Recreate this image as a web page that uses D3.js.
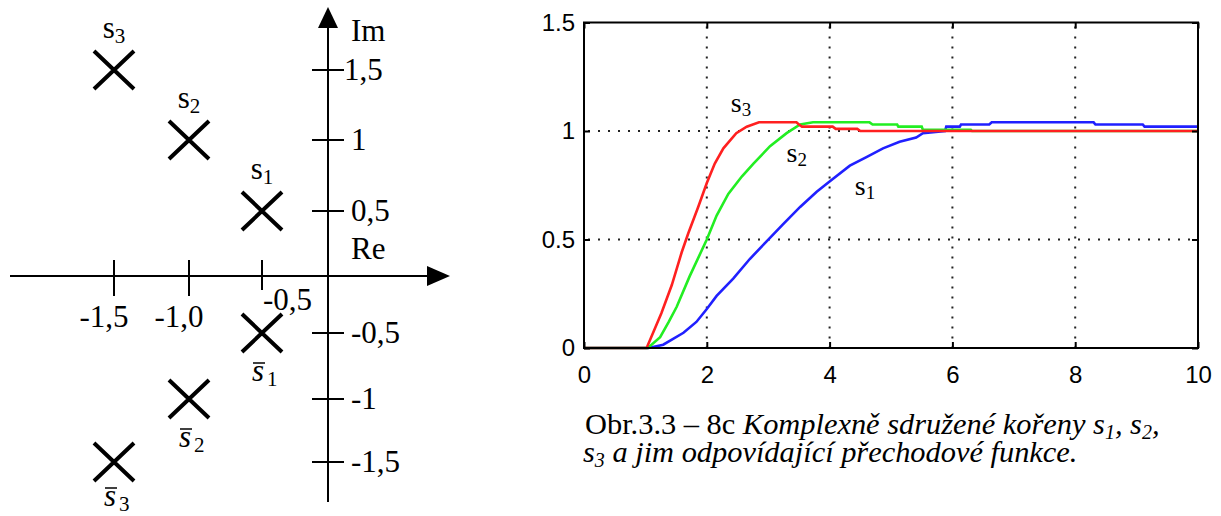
<!DOCTYPE html>
<html>
<head>
<meta charset="utf-8">
<script src="https://cdn.jsdelivr.net/npm/d3@7"></script>
<style>
body { margin: 0; background: #fff; }
svg { display: block; }
text { white-space: pre; }
</style>
</head>
<body>
<svg width="1221" height="516"></svg>
<script>
// pole plot (complex plane)
var reTicks = [-1.5, -1.0, -0.5];
var reTickLabels = ["-1,5", "-1,0", "-0,5"];
var imTicks = [1.5, 1, 0.5, -0.5, -1, -1.5];
var imTickLabels = ["1,5", "1", "0,5", "-0,5", "-1", "-1,5"];
var poleNames = ["1", "2", "3"];
var poleRe = [-0.5, -1.0, -1.5];
var poleIm = [0.5, 1.0, 1.5];

// step responses
var timeTicks = [0, 2, 4, 6, 8, 10];
var stepTicks = [0, 0.5, 1, 1.5];
var stepTickLabels = ["0", "0.5", "1", "1.5"];
var stepS1 = [[0, 0], [1.05, 0], [1.29, 0.015], [1.62, 0.07], [1.83, 0.12], [2.0, 0.18], [2.16, 0.24],
    [2.43, 0.32], [2.70, 0.41], [2.97, 0.49], [3.24, 0.57], [3.52, 0.65], [3.79, 0.72], [4.01, 0.77],
    [4.33, 0.84], [4.60, 0.88], [4.87, 0.92], [5.14, 0.95], [5.41, 0.97], [5.52, 0.99], [5.88, 1.0],
    [5.9, 1.02], [6.12, 1.02], [6.14, 1.03], [6.6, 1.03], [6.64, 1.04], [8.3, 1.04], [8.33, 1.03],
    [9.1, 1.03], [9.13, 1.02], [10, 1.02]];
var stepS2 = [[0, 0], [1.04, 0], [1.24, 0.05], [1.38, 0.12], [1.51, 0.19], [1.72, 0.33], [2.0, 0.50],
    [2.16, 0.61], [2.35, 0.71], [2.57, 0.79], [2.76, 0.85], [3.03, 0.93], [3.30, 0.99], [3.52, 1.03],
    [3.73, 1.04], [4.65, 1.04], [4.7, 1.03], [5.1, 1.03], [5.12, 1.02], [5.5, 1.02], [5.52, 1.005],
    [6.3, 1.005], [6.32, 1.0], [10, 1.0]];
var stepS3 = [[0, 0], [1.02, 0], [1.26, 0.16], [1.43, 0.29], [1.59, 0.44], [1.70, 0.53], [1.86, 0.65],
    [2.0, 0.76], [2.13, 0.85], [2.27, 0.92], [2.48, 0.99], [2.65, 1.02], [2.85, 1.04], [3.46, 1.04],
    [3.5, 1.03], [3.55, 1.02], [4.05, 1.02], [4.1, 1.01], [4.45, 1.01], [4.5, 1.0], [10, 1.0]];
var seriesNames = ["1", "2", "3"];
var seriesColors = ["#2020ff", "#22ee22", "#ff2020"];

function drawChart() {
    var svg = d3.select("svg");
    var serif = "'Liberation Serif', 'Times New Roman', serif";
    var sans = "'Liberation Sans', Arial, sans-serif";

    // ---------- left: complex plane ----------
    var re = d3.scaleLinear().domain([-1.5, -1, -0.5, 0]).range([114, 189, 262, 328]);
    var im = d3.scaleLinear().domain([-1.5, -1, -0.5, 0, 0.5, 1, 1.5])
        .range([462, 399, 333, 276, 211, 140, 70]);

    var p = svg.append("g").attr("stroke", "#000").attr("fill", "none");
    var ox = re(0), oy = im(0);

    // axes + arrows
    p.append("line").attr("x1", 10).attr("y1", oy).attr("x2", 430).attr("y2", oy).attr("stroke-width", 2);
    p.append("line").attr("x1", ox).attr("y1", 502).attr("x2", ox).attr("y2", 26).attr("stroke-width", 2);
    svg.append("path").attr("d", "M450," + oy + "L427," + (oy - 10) + "L427," + (oy + 10) + "Z").attr("fill", "#000");
    svg.append("path").attr("d", "M" + ox + ",7L" + (ox - 10) + ",28L" + (ox + 10) + ",28Z").attr("fill", "#000");

    p.selectAll(".reTick").data(reTicks).enter().append("line")
        .attr("x1", function (d) { return re(d); }).attr("x2", function (d) { return re(d); })
        .attr("y1", oy - 16).attr("y2", function (d) { return d === -0.5 ? oy + 14 : oy + 20; })
        .attr("stroke-width", 2);
    p.selectAll(".imTick").data(imTicks).enter().append("line")
        .attr("x1", ox - 16).attr("x2", ox + 16)
        .attr("y1", function (d) { return im(d); }).attr("y2", function (d) { return im(d); })
        .attr("stroke-width", 2);

    var lbl = svg.append("g").attr("font-family", serif).attr("font-size", 31).attr("fill", "#000");
    lbl.selectAll(".reLbl").data(reTicks).enter().append("text")
        .attr("x", function (d) { return d === -0.5 ? re(d) + 1 : re(d) - 10; })
        .attr("y", function (d) { return d === -0.5 ? oy + 34 : oy + 51; })
        .attr("text-anchor", function (d) { return d === -0.5 ? "start" : "middle"; })
        .text(function (d, i) { return reTickLabels[i]; });
    lbl.selectAll(".imLbl").data(imTicks).enter().append("text")
        .attr("x", function (d) { return d === 1.5 ? ox + 16 : ox + 23; })
        .attr("y", function (d) { return im(d) + 10; })
        .text(function (d, i) { return imTickLabels[i]; });
    lbl.append("text").attr("x", ox + 23).attr("y", 41).text("Im");
    lbl.append("text").attr("x", ox + 23).attr("y", oy - 17).text("Re");

    // poles and their conjugates
    var poles = [];
    poleNames.forEach(function (n, i) {
        poles.push({ name: n, re: poleRe[i], im: poleIm[i], conj: false });
        poles.push({ name: n, re: poleRe[i], im: -poleIm[i], conj: true });
    });
    svg.append("g").selectAll("path").data(poles).enter().append("path")
        .attr("d", function (d) {
            var cx = re(d.re), cy = im(d.im);
            return "M" + (cx - 20) + "," + (cy - 19) + "L" + (cx + 20) + "," + (cy + 19) +
                "M" + (cx + 20) + "," + (cy - 19) + "L" + (cx - 20) + "," + (cy + 19);
        })
        .attr("stroke", "#000").attr("stroke-width", 4).attr("fill", "none");

    poles.forEach(function (d) {
        var cx = re(d.re), cy = im(d.im);
        if (!d.conj) {
            var t = lbl.append("text").attr("x", cx).attr("y", cy - 32).attr("text-anchor", "middle");
            t.append("tspan").text("s");
            t.append("tspan").attr("font-size", 21).attr("dy", 5).text(d.name);
        } else {
            var x0 = cx - 10, y0 = Math.min(cy + 48, 506);
            var t2 = lbl.append("text").attr("x", x0).attr("y", y0);
            t2.append("tspan").attr("font-style", "italic").text("s");
            t2.append("tspan").attr("font-size", 21).attr("dx", 3).attr("dy", 5).text(d.name);
            svg.append("line").attr("x1", x0 + 1).attr("x2", x0 + 13)
                .attr("y1", y0 - 18).attr("y2", y0 - 18)
                .attr("stroke", "#000").attr("stroke-width", 1.5);
        }
    });

    // ---------- right: step responses ----------
    var x = d3.scaleLinear().domain([0, 10]).range([584, 1198]);
    var y = d3.scaleLinear().domain([0, 1.5]).range([348, 22.5]);

    var grid = svg.append("g").attr("stroke", "#222").attr("stroke-width", 2)
        .attr("stroke-dasharray", "2,8");
    grid.selectAll(".vg").data(timeTicks.slice(1, -1)).enter().append("line")
        .attr("x1", function (d) { return x(d); }).attr("x2", function (d) { return x(d); })
        .attr("y1", y(1.5) + 4).attr("y2", y(0));
    grid.selectAll(".hg").data(stepTicks.slice(1, -1)).enter().append("line")
        .attr("x1", x(0) + 4).attr("x2", x(10))
        .attr("y1", function (d) { return y(d); }).attr("y2", function (d) { return y(d); });

    var line = d3.line().x(function (d) { return x(d[0]); }).y(function (d) { return y(d[1]); });
    [stepS1, stepS2, stepS3].forEach(function (s, i) {
        svg.append("path").datum(s).attr("d", line).attr("fill", "none")
            .attr("stroke", seriesColors[i]).attr("stroke-width", 2.6);
    });

    var gx = svg.append("g").attr("transform", "translate(0," + y(0) + ")")
        .call(d3.axisBottom(x).tickValues(timeTicks).tickSize(-6).tickPadding(18).tickFormat(d3.format("d")));
    var gy = svg.append("g").attr("transform", "translate(" + x(0) + ",0)")
        .call(d3.axisLeft(y).tickValues(stepTicks).tickSize(-6).tickPadding(9)
            .tickFormat(function (d, i) { return stepTickLabels[i]; }));
    var gt = svg.append("g").attr("transform", "translate(0," + y(1.5) + ")")
        .call(d3.axisTop(x).tickValues(timeTicks).tickSize(-6).tickFormat(""));
    var gr = svg.append("g").attr("transform", "translate(" + x(10) + ",0)")
        .call(d3.axisRight(y).tickValues(stepTicks).tickSize(-6).tickFormat(""));
    [gx, gy, gt, gr].forEach(function (g) {
        g.select(".domain").remove();
        g.selectAll("line").attr("stroke", "#000").attr("stroke-width", 2);
        g.selectAll("text").attr("font-family", sans).attr("font-size", 24).attr("fill", "#000");
    });
    svg.append("rect").attr("x", x(0)).attr("y", y(1.5))
        .attr("width", x(10) - x(0)).attr("height", y(0) - y(1.5))
        .attr("fill", "none").attr("stroke", "#000").attr("stroke-width", 2);

    // curve labels
    var curveLabelAt = [[4.41, 0.705], [3.30, 0.857], [2.39, 1.088]];
    seriesNames.forEach(function (n, i) {
        var t = svg.append("text").attr("font-family", serif).attr("font-size", 28)
            .attr("x", x(curveLabelAt[i][0])).attr("y", y(curveLabelAt[i][1]));
        t.append("tspan").text("s");
        t.append("tspan").attr("font-size", 19).attr("dy", 4).text(n);
    });

    // caption
    var cap = svg.append("g").attr("font-family", serif).attr("font-size", 30.4).attr("fill", "#000");
    var c1 = cap.append("text").attr("x", 585).attr("y", 434);
    c1.append("tspan").text("Obr.3.3 – 8c ");
    c1.append("tspan").attr("font-style", "italic").text("Komplexně sdružené kořeny s");
    c1.append("tspan").attr("font-style", "italic").attr("font-size", 20).attr("dy", 5).text("1");
    c1.append("tspan").attr("font-style", "italic").attr("dy", -5).text(", s");
    c1.append("tspan").attr("font-style", "italic").attr("font-size", 20).attr("dy", 5).text("2");
    c1.append("tspan").attr("font-style", "italic").attr("dy", -5).text(",");
    var c2 = cap.append("text").attr("x", 583).attr("y", 462).attr("font-style", "italic");
    c2.append("tspan").text("s");
    c2.append("tspan").attr("font-size", 20).attr("dy", 5).text("3");
    c2.append("tspan").attr("dy", -5).text(" a jim odpovídající přechodové funkce.");
}

drawChart();
</script>
</body>
</html>
